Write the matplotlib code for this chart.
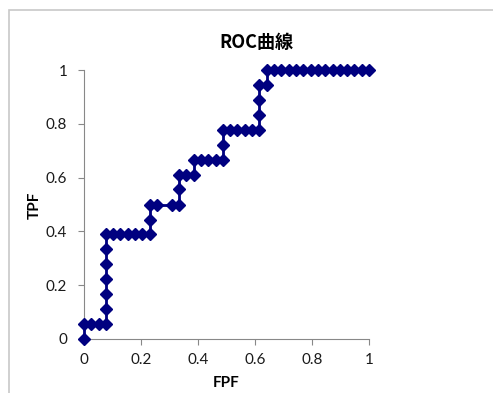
import matplotlib
matplotlib.use('Agg')
import matplotlib.pyplot as plt
from matplotlib.patches import Rectangle

# ROC points (FPF, TPF)
fpf = [0.0,
       0.0, 0.026, 0.051, 0.077,
       0.077, 0.077, 0.077, 0.077, 0.077, 0.077,
       0.103, 0.128, 0.154, 0.179, 0.205, 0.231,
       0.231, 0.231,
       0.256, 0.308, 0.333,
       0.333, 0.333,
       0.359, 0.385,
       0.385,
       0.410, 0.436, 0.462, 0.487,
       0.487, 0.487,
       0.513, 0.538, 0.564, 0.590, 0.615,
       0.615, 0.615, 0.615,
       0.641,
       0.641,
       0.667, 0.692, 0.718, 0.744, 0.769, 0.795, 0.821, 0.846,
       0.872, 0.897, 0.923, 0.949, 0.974, 1.0]
tpf = [0.0,
       0.056, 0.056, 0.056, 0.056,
       0.111, 0.167, 0.222, 0.278, 0.333, 0.389,
       0.389, 0.389, 0.389, 0.389, 0.389, 0.389,
       0.444, 0.5,
       0.5, 0.5, 0.5,
       0.556, 0.611,
       0.611, 0.611,
       0.667,
       0.667, 0.667, 0.667, 0.667,
       0.722, 0.778,
       0.778, 0.778, 0.778, 0.778, 0.778,
       0.833, 0.889, 0.944,
       0.944,
       1.0,
       1.0, 1.0, 1.0, 1.0, 1.0, 1.0, 1.0, 1.0,
       1.0, 1.0, 1.0, 1.0, 1.0, 1.0]
ticks = [0, 0.2, 0.4, 0.6, 0.8, 1]
tick_labels = ['0', '0.2', '0.4', '0.6', '0.8', '1']

W, H = 493, 393
fig = plt.figure(figsize=(W/100, H/100), dpi=100)

# chart area border
fig.patches.append(Rectangle((9/W, -0.1), 1.2, 1 - 10/H + 0.1, transform=fig.transFigure,
                             fill=False, edgecolor='#c8c8c8', linewidth=1.2))

ax = fig.add_axes([84/W, 1 - 339/H, 285/W, 269/H])
ax.plot(fpf, tpf, color='#000080', linewidth=2, marker='D', markersize=6,
        clip_on=False, zorder=5)

ax.set_xlim(0, 1)
ax.set_ylim(0, 1)
ax.set_xticks(ticks)
ax.set_yticks(ticks)
ax.set_xticklabels(tick_labels, fontfamily='Lato', fontsize=11)
ax.set_yticklabels(tick_labels, fontfamily='Lato', fontsize=11)
for s in ['top', 'right']:
    ax.spines[s].set_visible(False)
for s in ['left', 'bottom']:
    ax.spines[s].set_color('#888888')
    ax.spines[s].set_linewidth(0.8)
ax.tick_params(colors='#888888', length=4, width=0.8, labelcolor='#1a1a1a')
ax.tick_params(axis='x', pad=6)
ax.tick_params(axis='y', pad=8)

fig.text(256/W, 1 - 42/H, 'ROC曲線', ha='center', va='center', fontsize=13,
         fontweight='bold', family=['Noto Sans CJK JP', 'DejaVu Sans'])
fig.text(35/W, 1 - 205/H, 'TPF', ha='center', va='center', rotation=90,
         fontsize=11, fontweight='bold', family='Lato')
fig.text(226/W, 1 - 383/H, 'FPF', ha='center', va='center',
         fontsize=11, fontweight='bold', family='Lato')

fig.savefig('out.png', dpi=100)
